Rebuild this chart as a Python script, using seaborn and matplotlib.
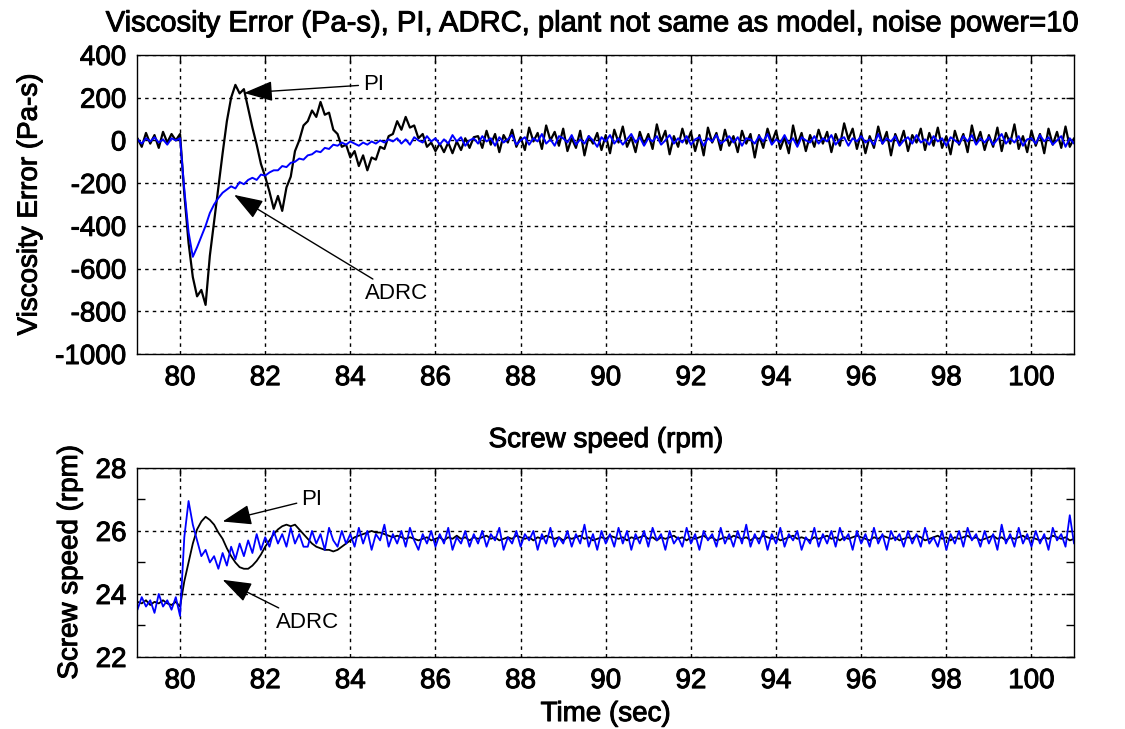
import numpy as np
import pandas as pd
import matplotlib
matplotlib.use("Agg")
import matplotlib.pyplot as plt
import matplotlib.patheffects as pe
import seaborn as sns

# ---------------- data ----------------
time_sec = np.round(np.arange(790, 1011) / 10.0, 1)   # 79.0 ... 101.0

visc_pi = [
    10, -30, 35, -15, 25, -35, 40, -10, 30, 0,
    30, -250, -480, -640, -730, -700, -770, -540, -380, -220,
    -60, 90, 200, 260, 220, 240, 150, 60, -20, -110,
    -170, -240, -320, -260, -330, -220, -170, -50, 0, 70,
    90, 140, 110, 180, 120, 130, 50, 30, -30, -20,
    -80, -50, -120, -70, -140, -80, -90, -30, -40, 20,
    30, 90, 50, 110, 60, 70, 10, 30, -30, -10,
    -50, -15, -55, -10, -60, -5, -45, 10, -35, 15,
    20, -35, 45, -20, 30, -55, 25, -10, 50, -30,
    15, -45, 60, -5, 35, -40, 70, 0, 40, -25,
    55, -50, 10, -35, 45, -70, 20, -15, 35, -45,
    25, -60, 50, -10, 65, -30, 15, -55, 40, -20,
    30, -40, 75, -5, 45, -65, 20, -30, 55, -15,
    40, -50, 25, -70, 60, -10, 35, -45, 50, -25,
    20, -55, 45, -15, 30, -80, 25, -35, 55, -10,
    45, -40, 15, -60, 70, -20, 35, -50, 25, -30,
    50, -15, 40, -55, 30, -25, 80, 5, 55, -40,
    35, -60, 20, -35, 65, -15, 40, -70, 30, -20,
    45, -50, 25, -10, 55, -45, 35, -25, 60, -35,
    20, -65, 45, -20, 30, -55, 70, -15, 40, -45,
    25, -30, 60, -50, 35, -15, 75, -40, 20, -55,
    45, -25, 30, -60, 55, -20, 40, -35, 65, -30,
    10,
]

visc_adrc = [
    5, -15, 10, -5, 15, -10, 5, -20, 10, 0,
    10, -230, -430, -545, -500, -450, -400, -340, -300, -270,
    -245, -230, -215, -225, -195, -205, -185, -175, -185, -160,
    -165, -150, -140, -140, -120, -125, -105, -100, -85, -90,
    -70, -65, -50, -55, -35, -40, -20, -25, -10, -20,
    -5, -15, -25, -10, -20, -5, -15, 0, -10, 5,
    -5, 10, -15, 5, -20, 15, 0, -10, 20, -5,
    10, -20, 5, -15, 25, -5, 15, -25, 0, 10,
    -15, 20, -5, 10, -25, 15, -10, 5, 25, -20,
    0, 15, -20, 10, -5, 30, -15, 5, -25, 20,
    10, -10, 25, -20, 5, -15, 20, 0, -30, 15,
    -5, 25, -15, 10, -20, 5, 30, -10, 15, -25,
    10, -5, 20, -20, 0, 25, -15, 10, -10, 20,
    -20, 5, 15, -25, 10, -5, 25, -15, 0, 20,
    -10, 15, -25, 10, 5, -15, 20, -5, 30, -20,
    5, -10, 25, -15, 10, -30, 15, 0, -10, 20,
    -15, 10, -5, 25, -20, 5, 15, -25, 10, -5,
    20, -10, 5, -20, 30, -15, 10, -5, 20, -25,
    0, 15, -15, 25, -10, 5, -20, 20, -5, 10,
    -25, 15, 0, -15, 20, -5, 25, -20, 10, -10,
    15, -20, 5, 30, -15, 10, -10, 20, -25, 5,
    10, -15, 25, -5, 15, -20, 0, 20, -30, 10,
    -15,
]

speed_pi = [
    23.75, 23.7, 23.8, 23.65, 23.75, 23.7, 23.8, 23.7, 23.65, 23.75,
    23.6, 24.4, 25.0, 25.6, 26.05, 26.3, 26.45, 26.35, 26.2, 25.95,
    25.75, 25.45, 25.2, 25.0, 24.85, 24.8, 24.8, 24.9, 25.05, 25.25,
    25.5, 25.7, 25.9, 26.05, 26.15, 26.2, 26.15, 26.2, 26.05, 25.9,
    25.75, 25.6, 25.5, 25.45, 25.4, 25.4, 25.35, 25.4, 25.5, 25.6,
    25.7, 25.8, 25.85, 25.9, 25.95, 26.0, 25.95, 25.95, 25.9, 25.85,
    25.8, 25.85, 25.8, 25.75, 25.8, 25.75, 25.7, 25.75, 25.8, 25.7,
    25.75, 25.8, 25.7, 25.8, 25.75, 25.85, 25.75, 25.8, 25.7, 25.8,
    25.75, 25.8, 25.85, 25.75, 25.8, 25.7, 25.75, 25.8, 25.75, 25.85,
    25.8, 25.75, 25.8, 25.7, 25.8, 25.75, 25.85, 25.8, 25.75, 25.8,
    25.7, 25.8, 25.75, 25.8, 25.85, 25.75, 25.8, 25.7, 25.75, 25.8,
    25.75, 25.85, 25.8, 25.75, 25.8, 25.7, 25.8, 25.75, 25.8, 25.85,
    25.75, 25.8, 25.7, 25.8, 25.75, 25.8, 25.85, 25.75, 25.8, 25.7,
    25.8, 25.75, 25.8, 25.85, 25.75, 25.8, 25.7, 25.75, 25.8, 25.75,
    25.85, 25.8, 25.75, 25.8, 25.7, 25.8, 25.75, 25.85, 25.8, 25.75,
    25.8, 25.7, 25.75, 25.8, 25.85, 25.75, 25.8, 25.75, 25.7, 25.8,
    25.75, 25.8, 25.85, 25.75, 25.8, 25.7, 25.8, 25.75, 25.8, 25.85,
    25.8, 25.75, 25.7, 25.8, 25.75, 25.85, 25.8, 25.75, 25.8, 25.7,
    25.75, 25.8, 25.75, 25.85, 25.8, 25.7, 25.75, 25.8, 25.85, 25.75,
    25.8, 25.7, 25.8, 25.75, 25.8, 25.85, 25.75, 25.8, 25.7, 25.75,
    25.8, 25.85, 25.75, 25.8, 25.7, 25.8, 25.75, 25.8, 25.85, 25.75,
    25.8, 25.75, 25.7, 25.8, 25.75, 25.85, 25.8, 25.75, 25.8, 25.7,
    25.75,
]

speed_adrc = [
    23.5, 23.9, 23.6, 23.8, 23.4, 24.0, 23.6, 23.8, 23.5, 23.9,
    23.3, 25.8, 26.95, 26.2, 25.7, 25.2, 25.4, 25.0, 25.2, 24.8,
    25.3, 24.9, 25.5, 25.1, 25.6, 25.2, 25.7, 25.3, 25.9, 25.4,
    25.8, 25.5, 26.0, 25.6, 25.9, 25.5, 26.1, 25.6, 25.9, 25.5,
    25.5, 26.0, 25.6, 25.9, 25.4, 26.1, 25.7, 25.5, 26.0, 25.6,
    25.9, 25.5, 26.1, 25.6, 26.0, 25.4, 25.9, 25.7, 26.2, 25.5,
    25.9, 25.6, 26.0, 25.5, 26.1, 25.7, 25.4, 25.9, 25.6, 26.0,
    25.5, 25.9, 25.6, 26.1, 25.4, 25.8, 25.6, 26.0, 25.5, 25.9,
    25.6, 26.0, 25.5, 25.9, 25.7, 26.1, 25.4, 25.8, 25.6, 26.0,
    25.5, 25.9, 25.7, 26.0, 25.4, 25.9, 25.6, 26.1, 25.5, 25.8,
    25.6, 26.0, 25.5, 25.9, 25.6, 26.2, 25.5, 25.9, 25.4, 26.0,
    25.6, 25.9, 25.5, 26.1, 25.6, 26.0, 25.4, 25.9, 25.6, 26.0,
    25.5, 26.1, 25.7, 25.9, 25.4, 26.0, 25.6, 25.8, 25.5, 26.1,
    25.6, 25.9, 25.4, 26.0, 25.7, 25.9, 25.5, 26.1, 25.6, 25.9,
    25.5, 26.0, 25.6, 26.2, 25.5, 25.9, 25.6, 26.0, 25.4, 25.9,
    25.6, 26.1, 25.5, 25.9, 25.7, 26.0, 25.4, 25.8, 25.6, 26.1,
    25.5, 25.9, 25.6, 26.0, 25.5, 26.1, 25.7, 25.9, 25.4, 26.0,
    25.6, 25.9, 25.5, 26.1, 25.6, 25.9, 25.4, 26.0, 25.7, 25.9,
    25.5, 26.0, 25.6, 25.9, 25.5, 26.1, 25.6, 25.8, 25.5, 26.0,
    25.4, 25.9, 25.6, 26.0, 25.5, 26.1, 25.7, 25.9, 25.5, 26.0,
    25.6, 25.9, 25.4, 26.2, 25.6, 25.9, 25.5, 26.1, 25.6, 25.9,
    25.5, 26.0, 25.6, 25.9, 25.4, 26.1, 25.7, 25.9, 25.5, 26.5,
    25.6,
]

x_ticks = [80, 82, 84, 86, 88, 90, 92, 94, 96, 98, 100]
visc_ticks = [-1000, -800, -600, -400, -200, 0, 200, 400]
speed_ticks = [22, 24, 26, 28]
speed_minor = [23, 25, 27]

title_top = "Viscosity Error (Pa-s), PI, ADRC, plant not same as model, noise power=10"
title_bot = "Screw speed (rpm)"
ylabel_top = "Viscosity Error (Pa-s)"
ylabel_bot = "Screw speed (rpm)"
xlabel_bot = "Time (sec)"

# ---------------- style ----------------
sns.set_theme(style="white")
plt.rcParams["font.family"] = ["Liberation Sans", "DejaVu Sans"]
plt.rcParams["text.color"] = "black"
plt.rcParams["axes.labelcolor"] = "black"
plt.rcParams["xtick.color"] = "black"
plt.rcParams["ytick.color"] = "black"
plt.rcParams["axes.edgecolor"] = "black"
plt.rcParams["axes.linewidth"] = 1.0

fig = plt.figure(figsize=(11.25, 7.29), dpi=100)
ax1 = fig.add_axes([0.1222, 0.5144, 0.8325, 0.4102])
ax2 = fig.add_axes([0.1222, 0.0988, 0.8325, 0.2593])

n = min(len(time_sec), len(visc_pi), len(visc_adrc), len(speed_pi), len(speed_adrc))
df = pd.DataFrame({
    "t": time_sec[:n],
    "visc_pi": visc_pi[:n],
    "visc_adrc": visc_adrc[:n],
    "speed_pi": speed_pi[:n],
    "speed_adrc": speed_adrc[:n],
})

sns.lineplot(data=df, x="t", y="visc_pi", ax=ax1, color="black", lw=1.6,
             estimator=None, sort=False)
sns.lineplot(data=df, x="t", y="visc_adrc", ax=ax1, color="#0000ff", lw=1.4,
             estimator=None, sort=False)
sns.lineplot(data=df, x="t", y="speed_pi", ax=ax2, color="black", lw=1.3,
             estimator=None, sort=False)
sns.lineplot(data=df, x="t", y="speed_adrc", ax=ax2, color="#0000ff", lw=1.3,
             estimator=None, sort=False)

FS = 20
thick = [pe.withStroke(linewidth=0.7, foreground="black")]
grid_kw = dict(color="black", linestyle=(0, (2.5, 3)), linewidth=1.0)

def style_text(t, fs=FS):
    t.set_fontsize(fs)
    t.set_path_effects(thick)

for ax in (ax1, ax2):
    ax.set_xlim(79, 101)
    ax.set_xticks(x_ticks)
    ax.set_xticklabels([str(v) for v in x_ticks])
    ax.grid(True, which="major", **grid_kw)
    ax.tick_params(axis="both", which="both", direction="in", top=True, right=True,
                   length=6, width=1, color="black", labelsize=FS, pad=8)
    for sp in ax.spines.values():
        sp.set_visible(True)
        sp.set_color("black")

ax1.set_ylim(-1000, 400)
ax1.set_yticks(visc_ticks)
ax1.set_yticklabels([str(v) for v in visc_ticks])
ax1.set_xlabel("")
ax1.set_ylabel(ylabel_top, labelpad=9)
ax1.set_title(title_top, pad=17, x=0.485)

ax2.set_ylim(22, 28)
ax2.set_yticks(speed_ticks)
ax2.set_yticks(speed_minor, minor=True)
ax2.set_yticklabels([str(v) for v in speed_ticks])
ax2.set_xlabel(xlabel_bot, labelpad=5)
ax2.set_ylabel(ylabel_bot, labelpad=9)
ax2.set_title(title_bot, pad=15)
ax2.tick_params(axis="y", which="minor", direction="in", left=True, right=True,
                length=6, width=1, color="black")

for ax in (ax1, ax2):
    for t in ax.get_xticklabels() + ax.get_yticklabels():
        style_text(t)
    style_text(ax.xaxis.label)
    style_text(ax.yaxis.label)
style_text(ax1.title, 21)
style_text(ax2.title)

arrow_kw = dict(arrowstyle="-|>,head_length=1.0,head_width=0.35", color="black",
                lw=1.0, mutation_scale=18, shrinkA=1, shrinkB=0)
ann_fs = 16
ax1.annotate("PI", xy=(81.5, 222), xytext=(84.3, 262), fontsize=ann_fs,
             ha="left", va="center", arrowprops=arrow_kw)
ax1.annotate("ADRC", xy=(81.27, -255), xytext=(84.35, -717), fontsize=ann_fs,
             ha="left", va="center", arrowprops=arrow_kw)
ax2.annotate("PI", xy=(81.0, 26.3), xytext=(82.85, 27.0), fontsize=ann_fs,
             ha="left", va="center", arrowprops=arrow_kw)
ax2.annotate("ADRC", xy=(81.0, 24.45), xytext=(82.25, 23.1), fontsize=ann_fs,
             ha="left", va="center", arrowprops=arrow_kw)

fig.savefig("out.png", dpi=100, facecolor="white")
